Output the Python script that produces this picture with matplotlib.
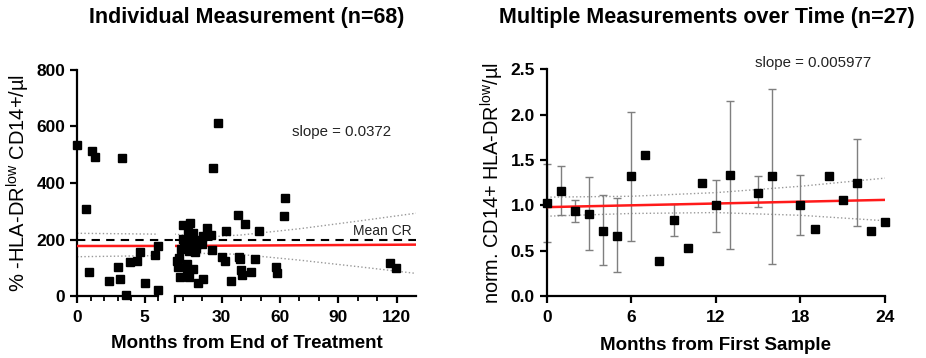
import numpy as np
import matplotlib
matplotlib.use("Agg")
import matplotlib.pyplot as plt

plt.rcParams["font.family"] = ["Liberation Sans", "DejaVu Sans"]
plt.rcParams["mathtext.fontset"] = "custom"
plt.rcParams["mathtext.rm"] = "Liberation Sans"
plt.rcParams["mathtext.it"] = "Liberation Sans:italic"
plt.rcParams["mathtext.bf"] = "Liberation Sans:bold"

# ---- left panel: individual measurements (months, cells/ul)
months_ind = [0, 0.67, 0.9, 1.12, 1.34, 2.4, 3.0, 3.2, 3.3, 3.65, 3.95, 4.48, 4.63, 5.0, 5.8, 6.0, 6.0,
              28.1, 25.5, 62.8, 62.3, 38.4, 41.9, 32, 49.1, 10, 13.8, 15.3, 22.7, 24.4, 10, 18, 19.2,
              20.1, 17.2, 9, 25.2, 16.4, 13, 30.3, 31.5, 38.8, 39.2, 47.1, 6.9, 7.7, 12.3, 15.4, 40.2,
              44.9, 40.6, 58.2, 58.5, 8.6, 13.3, 17.6, 20.4, 35, 116.6, 119.7,
              8, 10.5, 14, 16.6, 12, 15, 20.6, 12.6]
cells_ind = [534, 308, 85, 513, 492, 53, 103, 60, 488, 3, 120, 125, 155, 45, 145, 177, 20,
             611, 454, 348, 284, 287, 254, 231, 231, 251, 257, 224, 242, 216, 202, 200, 192,
             184, 184, 165, 163, 157, 160, 137, 125, 139, 131, 130, 125, 104, 92, 97, 92,
             86, 74, 104, 80, 68, 66, 45, 59, 54, 118, 98,
             135, 177, 205, 170, 113, 187, 212, 226]
mean_cr = 200
fit_int_ind = 177
slope_ind = 0.0372
band_x_ind = [0, 6, 15, 25, 40, 70, 100, 130]
band_up_ind = [222, 219, 212, 210, 216, 238, 265, 293]
band_lo_ind = [139, 143, 150, 151, 147, 127, 104, 80]

# ---- right panel: normalised values over time
months_mult = [0, 1, 2, 3, 4, 5, 6, 7, 8, 9, 10, 11, 12, 13, 15, 16, 18, 19, 20, 21, 22, 23, 24]
norm_mult = [1.03, 1.16, 0.94, 0.90, 0.72, 0.66, 1.32, 1.55, 0.39, 0.84, 0.53, 1.25, 1.00, 1.33,
             1.14, 1.32, 1.00, 0.74, 1.32, 1.06, 1.25, 0.72, 0.82]
err_top = [1.46, 1.43, 1.06, 1.31, 1.11, 1.08, 2.03, np.nan, np.nan, 1.01, np.nan, np.nan, 1.28, 2.15,
           1.32, 2.28, 1.33, np.nan, np.nan, np.nan, 1.73, np.nan, np.nan]
err_bot = [0.60, 0.89, 0.82, 0.51, 0.34, 0.26, 0.61, np.nan, np.nan, 0.66, np.nan, np.nan, 0.71, 0.52,
           0.98, 0.35, 0.67, np.nan, np.nan, np.nan, 0.77, np.nan, np.nan]
fit_x_mult = [0, 24]
fit_y_mult = [0.98, 1.06]
band_x_mult = [0, 6, 12, 18, 24]
band_up_mult = [1.09, 1.10, 1.14, 1.21, 1.30]
band_lo_mult = [0.88, 0.91, 0.92, 0.89, 0.83]

W, H = 926, 358
fig = plt.figure(figsize=(W / 100, H / 100), dpi=100)


def px_axes(x0, x1, y_top, y_bot):
    return fig.add_axes([x0 / W, (H - y_bot) / H, (x1 - x0) / W, (y_bot - y_top) / H])


def style(ax):
    for s in ["top", "right"]:
        ax.spines[s].set_visible(False)
    for s in ["left", "bottom"]:
        ax.spines[s].set_linewidth(1.6)
    ax.tick_params(which="major", width=1.6, length=5, labelsize=12.5)
    ax.tick_params(axis="x", which="major", pad=5)
    ax.tick_params(which="minor", width=1.3, length=3.5)
    for lab in ax.get_xticklabels() + ax.get_yticklabels():
        lab.set_fontweight("bold")


ax1 = px_axes(77, 158, 70, 296)
ax2 = px_axes(175, 416, 70, 296)

mi = np.array(months_ind)
ci = np.array(cells_ind)
bx = np.array(band_x_ind)

for ax, lo, hi in [(ax1, 0, 6), (ax2, 6, 130)]:
    ax.set_xlim(lo, hi)
    ax.set_ylim(0, 800)
    ax.plot(bx, band_up_ind, ls=":", color="#999999", lw=1)
    ax.plot(bx, band_lo_ind, ls=":", color="#999999", lw=1)
    xx = np.array([lo, hi])
    ax.plot(xx, fit_int_ind + slope_ind * xx, color="#ff1a1a", lw=1.8, zorder=3)
    if ax is ax1:
        sel = mi <= 6
        ax.axhline(mean_cr, xmin=0, xmax=1.21, color="black", ls=(0, (4, 3)), lw=1.5,
                   clip_on=False, zorder=2)
    else:
        sel = mi > 6
        ax.axhline(mean_cr, color="black", ls=(0, (4, 3)), lw=1.5, zorder=2)
    ax.plot(mi[sel], ci[sel], "s", color="black", ms=5.5, clip_on=False, zorder=4)

ax1.set_yticks([0, 200, 400, 600, 800])
ax1.set_xticks([0, 5])
ax1.set_xticks([1, 2, 3, 4, 6], minor=True)
ax1.set_ylabel(r"% -HLA-DR$^{\mathrm{low}}$ CD14+/µl", fontsize=14.5, labelpad=3)
style(ax1)

ax2.spines["left"].set_visible(False)
ax2.set_yticks([])
ax2.set_xticks([6, 30, 60, 90, 120])
ax2.set_xticklabels(["", "30", "60", "90", "120"])
ax2.set_xticks([10, 20, 40, 50, 70, 80, 100, 110], minor=True)
style(ax2)
ax2.text(66, 580, "slope = 0.0372", fontsize=10.8, va="center", color="#222222")
ax2.text(128, 207, "Mean CR", fontsize=10, ha="right", va="bottom", color="#222222")

fig.text(247 / W, 1 - 17 / H, "Individual Measurement (n=68)", ha="center", va="center",
         fontsize=15.5, fontweight="bold")
fig.text(247 / W, 1 - 343 / H, "Months from End of Treatment", ha="center", va="center",
         fontsize=13.5, fontweight="bold")

# ---- right panel
ax3 = px_axes(546.7, 885, 69.3, 296)
ax3.set_xlim(0, 24)
ax3.set_ylim(0, 2.5)
ax3.plot(band_x_mult, band_up_mult, ls=":", color="#999999", lw=1)
ax3.plot(band_x_mult, band_lo_mult, ls=":", color="#999999", lw=1)
ax3.plot(fit_x_mult, fit_y_mult, color="#ff1a1a", lw=1.8, zorder=3)

mm = np.array(months_mult)
nm = np.array(norm_mult)
et = np.array(err_top)
eb = np.array(err_bot)
has = ~np.isnan(et)
ax3.errorbar(mm[has], nm[has], yerr=[nm[has] - eb[has], et[has] - nm[has]], fmt="none",
             ecolor="#7f7f7f", elinewidth=1, capsize=3, capthick=1, clip_on=False, zorder=2)
ax3.plot(mm, nm, "s", color="black", ms=5.5, clip_on=False, zorder=4)
ax3.set_xticks([0, 6, 12, 18, 24])
ax3.set_yticks([0, 0.5, 1.0, 1.5, 2.0, 2.5])
ax3.set_yticklabels(["0.0", "0.5", "1.0", "1.5", "2.0", "2.5"])
ax3.set_ylabel(r"norm. CD14+ HLA-DR$^{\mathrm{low}}$/µl", fontsize=14.3, labelpad=3)
style(ax3)
ax3.text(14.8, 2.57, "slope = 0.005977", fontsize=10.8, va="center", color="#222222")

fig.text(716 / W, 1 - 345 / H, "Months from First Sample", ha="center", va="center",
         fontsize=13.5, fontweight="bold")
fig.text(707 / W, 1 - 17 / H, "Multiple Measurements over Time (n=27)", ha="center", va="center",
         fontsize=15.5, fontweight="bold")

fig.savefig("out.png", dpi=100)
